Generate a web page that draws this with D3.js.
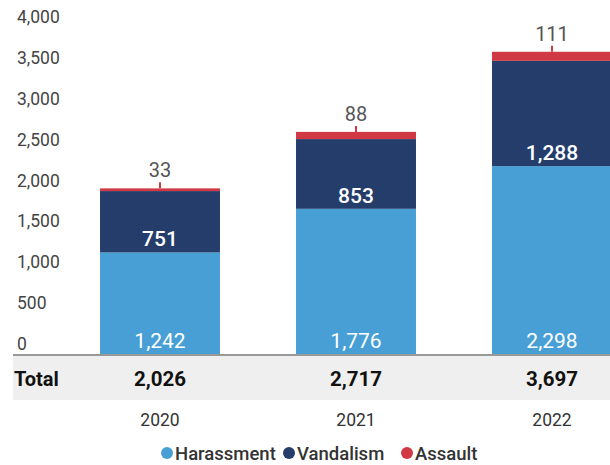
<!DOCTYPE html>
<html>
<head>
<meta charset="utf-8">
<script src="https://cdn.jsdelivr.net/npm/d3@7"></script>
<style>
  body { margin: 0; background: #fff; }
  svg text { font-family: Roboto, "Noto Sans", sans-serif; }
</style>
</head>
<body>
<div id="chart"></div>
<script>
(function(){

    // data
    var years = ["2020", "2021", "2022"];
    var harassment = [1242, 1776, 2298];
    var vandalism = [751, 853, 1288];
    var assault = [33, 88, 111];
    var seriesNames = ["Harassment", "Vandalism", "Assault"];
    var colors = ["#489fd6", "#243d6b", "#d03943"];
    var yTicks = [0, 500, 1000, 1500, 2000, 2500, 3000, 3500, 4000];

    var width = 610, height = 465;
    var svg = d3.select("#chart").append("svg")
        .attr("width", width)
        .attr("height", height);

    var rows = years.map(function(y, i){
        return {year: y, Harassment: harassment[i], Vandalism: vandalism[i], Assault: assault[i]};
    });
    var stacked = d3.stack().keys(seriesNames)(rows);

    var x = d3.scaleBand().domain(years).range([62, 650]).paddingInner(0.388).paddingOuter(0.194);
    var y = d3.scaleLinear().domain([0, 4000]).range([354, 27]);
    var fmt = d3.format(",");

    // y tick labels (sit above their value, no gridlines)
    svg.append("g").selectAll("text")
        .data(yTicks).enter().append("text")
        .attr("x", 17)
        .attr("y", function(d){ return y(d) - 4; })
        .attr("font-size", "17.5px")
        .attr("fill", "#444")
        .text(function(d){ return fmt(d); });

    // total band
    svg.append("rect")
        .attr("x", 13).attr("y", 356)
        .attr("width", width - 13).attr("height", 44)
        .attr("fill", "#efefef");

    // stacked bars
    var layers = svg.append("g").selectAll("g")
        .data(stacked).enter().append("g")
        .attr("fill", function(d, i){ return colors[i]; });

    layers.selectAll("rect")
        .data(function(d){ return d; })
        .enter().append("rect")
        .attr("x", function(d){ return x(d.data.year); })
        .attr("y", function(d){ return y(d[1]); })
        .attr("width", x.bandwidth())
        .attr("height", function(d){ return y(d[0]) - y(d[1]); });

    // baseline
    svg.append("line")
        .attr("x1", 13).attr("x2", width)
        .attr("y1", 355).attr("y2", 355)
        .style("stroke", "#999")
        .style("stroke-width", 2);

    // inside labels (harassment, vandalism)
    [0, 1].forEach(function(k){
        svg.append("g").selectAll("text")
            .data(stacked[k]).enter().append("text")
            .attr("x", function(d){ return x(d.data.year) + x.bandwidth()/2; })
            .attr("y", function(d){ return y(d[0]) - 6; })
            .attr("text-anchor", "middle")
            .attr("font-size", "21px")
            .attr("font-weight", k == 1 ? 500 : 400)
            .attr("fill", "#fff")
            .text(function(d){ return fmt(d[1] - d[0]); });
    });

    // assault labels above bars with small tick
    var top = stacked[2];
    svg.append("g").selectAll("line")
        .data(top).enter().append("line")
        .attr("x1", function(d){ return x(d.data.year) + x.bandwidth()/2; })
        .attr("x2", function(d){ return x(d.data.year) + x.bandwidth()/2; })
        .attr("y1", function(d){ return y(d[1]); })
        .attr("y2", function(d){ return y(d[1]) - 6; })
        .style("stroke", colors[2])
        .style("stroke-width", 2);

    svg.append("g").selectAll("text")
        .data(top).enter().append("text")
        .attr("x", function(d){ return x(d.data.year) + x.bandwidth()/2; })
        .attr("y", function(d){ return y(d[1]) - 11; })
        .attr("text-anchor", "middle")
        .attr("font-size", "20px")
        .attr("fill", "#555")
        .text(function(d){ return fmt(d[1] - d[0]); });

    // total row
    svg.append("text")
        .attr("x", 14).attr("y", 386)
        .attr("font-size", "20px")
        .attr("font-weight", "bold")
        .attr("fill", "#111")
        .text("Total");

    svg.append("g").selectAll("text")
        .data(top).enter().append("text")
        .attr("x", function(d){ return x(d.data.year) + x.bandwidth()/2; })
        .attr("y", 386)
        .attr("text-anchor", "middle")
        .attr("font-size", "20.5px")
        .attr("font-weight", "bold")
        .attr("fill", "#111")
        .text(function(d){ return fmt(d[1]); });

    // year labels
    svg.append("g").selectAll("text")
        .data(years).enter().append("text")
        .attr("x", function(d){ return x(d) + x.bandwidth()/2; })
        .attr("y", 426)
        .attr("text-anchor", "middle")
        .attr("font-size", "17.5px")
        .attr("fill", "#333")
        .text(function(d){ return d; });

    // legend
    var legendX = [167, 289, 407];
    var legend = svg.append("g").selectAll("g")
        .data(seriesNames).enter().append("g")
        .attr("transform", function(d, i){ return "translate(" + legendX[i] + ",453)"; });
    legend.append("circle")
        .attr("r", 6)
        .attr("fill", function(d, i){ return colors[i]; });
    legend.append("text")
        .attr("x", 8).attr("y", 6.5)
        .attr("font-size", "18.5px")
        .attr("font-weight", 500)
        .attr("fill", "#333")
        .text(function(d){ return d; });

})();
</script>
</body>
</html>
